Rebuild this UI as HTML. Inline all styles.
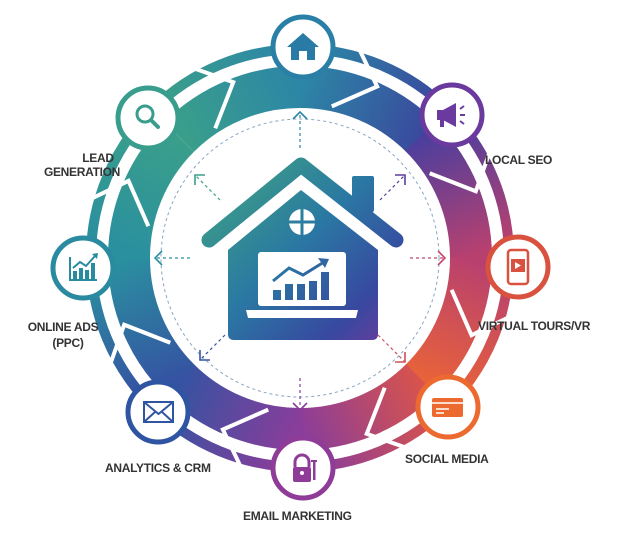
<!DOCTYPE html>
<html><head><meta charset="utf-8"><style>
html,body{margin:0;padding:0;background:#fff;}
svg{display:block}
text{font-family:"Liberation Sans",sans-serif;font-size:12px;fill:#333;font-weight:bold;letter-spacing:-0.3px}
</style></head><body>
<svg width="633" height="556" viewBox="0 0 633 556" xmlns="http://www.w3.org/2000/svg">
<defs>
<linearGradient id="g0" gradientUnits="userSpaceOnUse" x1="300" y1="90" x2="419" y2="139"><stop offset="0" stop-color="#2c86a6"/><stop offset="1" stop-color="#3a4a9e"/></linearGradient>
<linearGradient id="g1" gradientUnits="userSpaceOnUse" x1="419" y1="139" x2="468" y2="258"><stop offset="0" stop-color="#4b3f9e"/><stop offset="1" stop-color="#b8406f"/></linearGradient>
<linearGradient id="g2" gradientUnits="userSpaceOnUse" x1="468" y1="258" x2="419" y2="377"><stop offset="0" stop-color="#b8406f"/><stop offset="1" stop-color="#e8623a"/></linearGradient>
<linearGradient id="g3" gradientUnits="userSpaceOnUse" x1="419" y1="377" x2="300" y2="426"><stop offset="0" stop-color="#d8534c"/><stop offset="1" stop-color="#8a3d9a"/></linearGradient>
<linearGradient id="g4" gradientUnits="userSpaceOnUse" x1="300" y1="426" x2="181" y2="377"><stop offset="0" stop-color="#8a3d9a"/><stop offset="1" stop-color="#3553a2"/></linearGradient>
<linearGradient id="g5" gradientUnits="userSpaceOnUse" x1="181" y1="377" x2="132" y2="258"><stop offset="0" stop-color="#3553a2"/><stop offset="1" stop-color="#2a8f9f"/></linearGradient>
<linearGradient id="g6" gradientUnits="userSpaceOnUse" x1="132" y1="258" x2="181" y2="139"><stop offset="0" stop-color="#2a8f9f"/><stop offset="1" stop-color="#3a9f8a"/></linearGradient>
<linearGradient id="g7" gradientUnits="userSpaceOnUse" x1="181" y1="139" x2="300" y2="90"><stop offset="0" stop-color="#3a9f8a"/><stop offset="1" stop-color="#2c86a6"/></linearGradient>
<linearGradient id="gh" gradientUnits="userSpaceOnUse" x1="215" y1="170" x2="390" y2="345"><stop offset="0" stop-color="#3ea283"/><stop offset="0.45" stop-color="#2a78a3"/><stop offset="0.8" stop-color="#3848a0"/><stop offset="1" stop-color="#6a3d9c"/></linearGradient>
</defs>

<g fill="none" stroke-width="42">
<path d="M300,87 A171,171 0 0 1 421,137" stroke="url(#g0)"/>
<path d="M420,136 A171,171 0 0 1 471,258" stroke="url(#g1)"/>
<path d="M471,257 A171,171 0 0 1 420,380" stroke="url(#g2)"/>
<path d="M421,379 A171,171 0 0 1 300,429" stroke="url(#g3)"/>
<path d="M301,429 A171,171 0 0 1 179,379" stroke="url(#g4)"/>
<path d="M180,380 A171,171 0 0 1 129,258" stroke="url(#g5)"/>
<path d="M129,259 A171,171 0 0 1 179,137" stroke="url(#g6)"/>
<path d="M179,137 A171,171 0 0 1 301,87" stroke="url(#g7)"/>
</g>
<g fill="none" stroke-width="10">
<path d="M300,49 A209,209 0 0 1 448,110" stroke="url(#g0)"/>
<path d="M448,110 A209,209 0 0 1 509,258" stroke="url(#g1)"/>
<path d="M509,258 A209,209 0 0 1 448,406" stroke="url(#g2)"/>
<path d="M448,406 A209,209 0 0 1 300,467" stroke="url(#g3)"/>
<path d="M300,467 A209,209 0 0 1 152,406" stroke="url(#g4)"/>
<path d="M152,406 A209,209 0 0 1 91,258" stroke="url(#g5)"/>
<path d="M91,258 A209,209 0 0 1 152,110" stroke="url(#g6)"/>
<path d="M152,110 A209,209 0 0 1 300,49" stroke="url(#g7)"/>
</g>
<circle cx="300" cy="258" r="195" fill="none" stroke="#fff" stroke-width="4"/>
<g fill="none" stroke="#fff" stroke-width="4" stroke-linejoin="miter">
<g transform="translate(300,258)">
<g transform="rotate(-112)"><polyline points="152,-30 188,4 218,-30"/></g>
<g transform="rotate(-67)"><polyline points="152,-30 188,4 218,-30"/></g>
<g transform="rotate(-22)"><polyline points="152,-30 188,4 218,-30"/></g>
<g transform="rotate(23)"><polyline points="152,-30 188,4 218,-30"/></g>
<g transform="rotate(68)"><polyline points="152,-30 188,4 218,-30"/></g>
<g transform="rotate(113)"><polyline points="152,-30 188,4 218,-30"/></g>
<g transform="rotate(158)"><polyline points="152,-30 188,4 218,-30"/></g>
<g transform="rotate(203)"><polyline points="152,-30 188,4 218,-30"/></g>
</g>
</g>
<circle cx="300" cy="258" r="149" fill="#fff"/>
<circle cx="300" cy="258" r="139" fill="none" stroke="#6a8fb0" stroke-width="1" stroke-dasharray="3,3" opacity="0.8"/>
<g fill="none" stroke-width="1.2" stroke-dasharray="3,3">
<line x1="300" y1="148" x2="300" y2="112" stroke="#2c86a6"/>
<line x1="300" y1="378" x2="300" y2="410" stroke="#8a3d9a"/>
<line x1="190" y1="258" x2="155" y2="258" stroke="#2a8f9f"/>
<line x1="410" y1="258" x2="445" y2="258" stroke="#c4456a"/>
<line x1="220" y1="200" x2="195" y2="175" stroke="#3a9f8a"/>
<line x1="380" y1="200" x2="405" y2="175" stroke="#5a3f9f"/>
<line x1="225" y1="335" x2="200" y2="360" stroke="#3553a2"/>
<line x1="378" y1="335" x2="405" y2="362" stroke="#d0505a"/>
</g>
<g fill="none" stroke-width="1.6">
<polyline points="293,119 300,112 307,119" stroke="#2c86a6"/>
<polyline points="293,403 300,410 307,403" stroke="#8a3d9a"/>
<polyline points="162,251 155,258 162,265" stroke="#2a8f9f"/>
<polyline points="438,251 445,258 438,265" stroke="#c4456a"/>
<polyline points="195,185 195,175 205,175" stroke="#3a9f8a"/>
<polyline points="395,175 405,175 405,185" stroke="#5a3f9f"/>
<polyline points="200,350 200,360 210,360" stroke="#3553a2"/>
<polyline points="395,362 405,362 405,352" stroke="#d0505a"/>
</g>

<path d="M228,340 L228,250 L301,190 L378,250 L378,334 Q378,340 372,340 L234,340 Q228,340 228,334 Z" fill="url(#gh)"/>
<polyline points="209,240 301,165 396,240" fill="none" stroke="#fff" stroke-width="26" stroke-linecap="round" stroke-linejoin="round"/>
<rect x="352" y="176" width="22" height="36" rx="2" fill="url(#gh)"/>
<polyline points="209,240 301,165 396,240" fill="none" stroke="url(#gh)" stroke-width="15" stroke-linecap="round" stroke-linejoin="round"/>
<circle cx="302" cy="222" r="13" fill="#fff"/>
<rect x="300.5" y="209" width="3" height="26" fill="url(#gh)"/>
<rect x="289" y="220.5" width="26" height="3" fill="url(#gh)"/>
<rect x="258" y="252" width="88" height="54" rx="3" fill="#fff"/>
<path d="M246,310 L358,310 L356,318 L248,318 Z" fill="#fff"/>
<g fill="url(#gh)">
<rect x="273" y="290" width="8" height="10"/>
<rect x="285" y="284" width="8" height="16"/>
<rect x="297" y="284" width="8" height="16"/>
<rect x="309" y="281" width="8" height="19"/>
<rect x="321" y="272" width="8" height="28"/>
</g>
<polyline points="273,281 289,268 303,275 324,262" fill="none" stroke="url(#gh)" stroke-width="3"/>
<polygon points="318,258 329,259 325,268" fill="url(#gh)"/>

<g stroke-width="5" fill="#fff">
<circle cx="303" cy="47" r="30" stroke="#2a7fa6"/>
<circle cx="452" cy="115" r="30" stroke="#6a3a9e"/>
<circle cx="518" cy="267" r="30" stroke="#d9513f"/>
<circle cx="448" cy="407" r="30" stroke="#ec6a30"/>
<circle cx="303" cy="468" r="30" stroke="#8e3c98"/>
<circle cx="158" cy="412" r="30" stroke="#2f55a2"/>
<circle cx="83" cy="268" r="30" stroke="#2a8a9f"/>
<circle cx="148" cy="118" r="30" stroke="#389d8c"/>
</g>
<g fill="#2a7aa6"><polygon points="287,47 303,33 319,47 315,47 315,60 307,60 307,51 299,51 299,60 291,60 291,47"/></g>
<g fill="#6a3a9e"><rect x="437" y="110" width="6" height="10"/><polygon points="443,110 456,103 456,127 443,120"/><rect x="440" y="120" width="4" height="7"/><g stroke="#6a3a9e" stroke-width="2"><line x1="460" y1="109" x2="464" y2="106"/><line x1="460" y1="115" x2="465" y2="115"/><line x1="460" y1="121" x2="464" y2="124"/></g></g>
<g><rect x="508" y="250" width="20" height="34" rx="3" fill="none" stroke="#d9513f" stroke-width="2.5"/><rect x="511" y="259" width="14" height="13" fill="#d9513f"/><polygon points="515,262 515,269 521,265.5" fill="#fff"/></g>
<g><rect x="432" y="398" width="31" height="19" rx="2" fill="#ec6a30"/><g stroke="#fff" stroke-width="1.5"><line x1="432" y1="403" x2="463" y2="403"/><line x1="436" y1="409" x2="449" y2="409"/><line x1="436" y1="413" x2="444" y2="413"/></g></g>
<g fill="#8e3c98"><path d="M295,467 v-5 a7,7 0 0 1 14,0 v5" fill="none" stroke="#8e3c98" stroke-width="3"/><rect x="293" y="467" width="18" height="15" rx="2"/><circle cx="302" cy="473" r="2" fill="#fff"/><rect x="313" y="460" width="2.5" height="20"/><rect x="311" y="460" width="6" height="2"/></g>
<g fill="none" stroke="#2f55a2" stroke-width="2"><rect x="144" y="402" width="29" height="20"/><polyline points="144,402 158.5,414 173,402"/><polyline points="144,422 155,412"/><polyline points="173,422 162,412"/></g>
<g fill="#2a8a9f"><rect x="69" y="257" width="2" height="23"/><rect x="69" y="279" width="28" height="2"/><rect x="73" y="271" width="4" height="8"/><rect x="79" y="268" width="4" height="11"/><rect x="85" y="270" width="4" height="9"/><rect x="91" y="263" width="4" height="16"/><polyline points="73,268 80,262 86,266 95,256" fill="none" stroke="#2a8a9f" stroke-width="2"/><polygon points="92,254 98,253 97,259"/></g>
<g fill="none" stroke="#389d8c"><circle cx="145" cy="114" r="8" stroke-width="3"/><line x1="151" y1="120" x2="158" y2="127" stroke-width="4" stroke-linecap="round"/></g>

<text x="98" y="162" text-anchor="middle">LEAD</text>
<text x="82" y="176" text-anchor="middle">GENERATION</text>
<text x="485" y="164">LOCAL SEO</text>
<text x="63" y="331" text-anchor="middle">ONLINE ADS</text>
<text x="68" y="347" text-anchor="middle">(PPC)</text>
<text x="478" y="330">VIRTUAL TOURS/VR</text>
<text x="105" y="472">ANALYTICS &amp; CRM</text>
<text x="405" y="463">SOCIAL MEDIA</text>
<text x="243" y="520">EMAIL MARKETING</text>
</svg>
</body></html>
